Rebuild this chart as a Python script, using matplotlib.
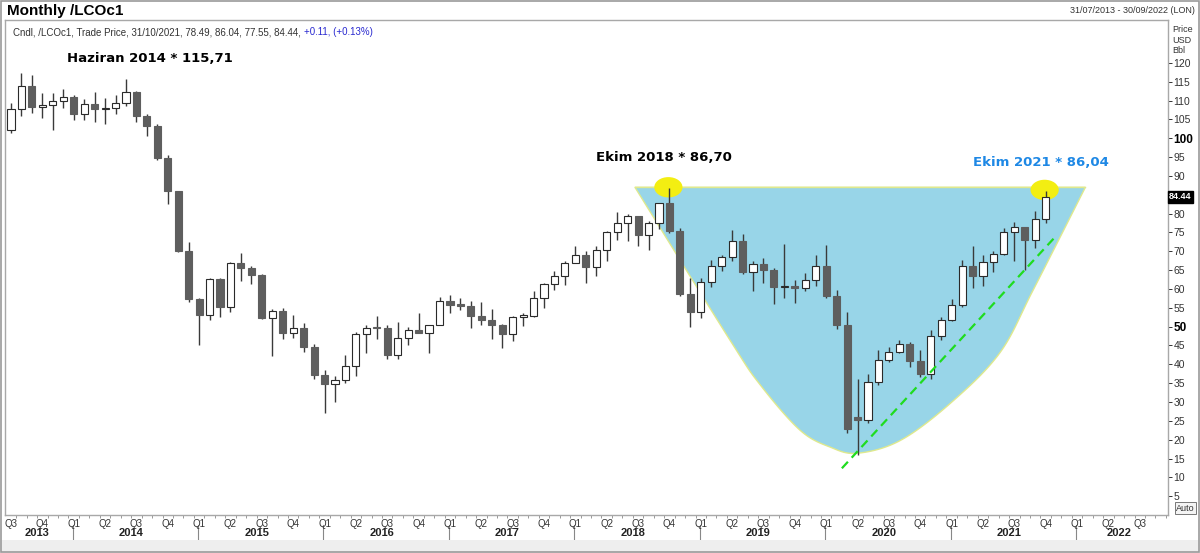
import numpy as np
import pandas as pd
import matplotlib
matplotlib.use('Agg')
import matplotlib.pyplot as plt
import matplotlib.transforms as mtransforms
from matplotlib.patches import Ellipse, Polygon, Rectangle

plt.rcParams['font.family'] = ['Liberation Sans', 'DejaVu Sans']

# monthly Brent (LCOc1) candles, Jul 2013 .. Oct 2021
months = pd.date_range('2013-07-01', '2021-10-01', freq='MS')
opens = [102.2, 107.7, 114.0, 108.4, 108.8, 110.0,
         111.0, 106.4, 109.1, 107.8, 108.1, 109.4, 112.4, 106.0, 103.2, 94.7, 85.9, 70.15,
         57.3, 52.99, 62.58, 55.11, 66.78, 65.56, 63.59, 52.21, 54.15, 48.37, 49.56, 44.61,
         37.28, 34.74, 35.97, 39.60, 48.13, 49.69, 49.68, 42.46, 47.04, 49.06, 48.30, 50.47,
         56.82, 55.70, 55.59, 52.83, 51.73, 50.31, 47.92, 52.65, 52.86, 57.54, 61.37, 63.57,
         66.87, 69.05, 65.78, 70.27, 75.17, 77.59, 79.44, 74.25, 77.42, 82.72, 75.47, 58.71,
         53.80, 61.89, 66.03, 68.39, 72.80, 64.49, 66.55, 65.17, 60.43, 60.78, 60.23, 62.43,
         66.00, 58.16, 50.52, 26.00, 25.30, 35.33, 41.15, 43.30, 45.28, 40.95, 37.46, 47.59,
         51.80, 55.88, 66.13, 63.54, 67.25, 69.32, 75.13, 76.33, 72.99, 78.49]
highs = [109.3, 117.3, 116.8, 112.0, 112.0, 113.1,
         111.5, 110.5, 112.4, 110.6, 111.5, 115.71, 112.5, 106.5, 103.8, 95.5, 86.0, 72.5,
         57.6, 63.0, 62.8, 67.1, 69.63, 66.2, 63.9, 54.7, 54.9, 53.1, 50.9, 45.4,
         38.5, 37.0, 42.5, 48.5, 50.5, 52.9, 50.5, 51.2, 49.9, 53.7, 50.5, 57.9,
         58.4, 57.5, 56.9, 56.6, 54.8, 50.8, 52.9, 53.5, 59.5, 61.7, 64.7, 67.3,
         71.3, 70.1, 71.3, 75.5, 80.5, 79.8, 79.5, 78.0, 82.9, 86.70, 76.3, 63.0,
         63.0, 67.6, 69.0, 75.6, 74.5, 67.4, 68.3, 65.6, 71.95, 62.3, 64.2, 68.99,
         71.75, 59.8, 53.9, 36.0, 37.5, 43.9, 44.6, 46.5, 46.0, 43.9, 49.2, 52.5,
         57.4, 67.7, 71.4, 68.9, 70.0, 76.2, 77.8, 76.5, 80.75, 86.04]
lows = [101.5, 106.0, 106.6, 105.5, 102.2, 108.0,
        104.9, 104.9, 104.3, 103.8, 106.5, 108.6, 104.3, 100.7, 94.2, 82.6, 69.8, 56.5,
        45.19, 51.8, 52.5, 54.0, 62.0, 61.3, 52.1, 42.23, 46.6, 47.1, 43.3, 36.0,
        27.10, 30.0, 35.0, 36.8, 43.0, 46.6, 41.5, 41.5, 45.0, 48.3, 43.0, 50.5,
        53.6, 54.5, 49.7, 50.5, 46.6, 44.35, 46.1, 50.3, 52.6, 55.0, 59.6, 61.0,
        66.8, 61.6, 63.5, 67.5, 73.0, 72.7, 71.5, 70.3, 76.0, 74.9, 58.2, 50.0,
        52.3, 60.5, 64.8, 67.5, 64.0, 59.5, 61.6, 55.9, 57.5, 56.2, 59.5, 60.8,
        57.7, 49.5, 21.65, 16.0, 24.5, 34.5, 40.5, 43.1, 39.4, 36.6, 36.0, 46.5,
        51.4, 55.1, 60.3, 60.9, 64.5, 68.9, 67.4, 65.1, 71.0, 77.55]
closes = [107.7, 114.0, 108.4, 108.8, 110.0, 111.0,
          106.4, 109.1, 107.8, 108.1, 109.4, 112.4, 106.0, 103.2, 94.7, 85.9, 70.15, 57.3,
          52.99, 62.58, 55.11, 66.78, 65.56, 63.59, 52.21, 54.15, 48.37, 49.56, 44.61, 37.28,
          34.74, 35.97, 39.60, 48.13, 49.69, 49.68, 42.46, 47.04, 49.06, 48.30, 50.47, 56.82,
          55.70, 55.59, 52.83, 51.73, 50.31, 47.92, 52.65, 52.86, 57.54, 61.37, 63.57, 66.87,
          69.05, 65.78, 70.27, 75.17, 77.59, 79.44, 74.25, 77.42, 82.72, 75.47, 58.71, 53.80,
          61.89, 66.03, 68.39, 72.80, 64.49, 66.55, 65.17, 60.43, 60.78, 60.23, 62.43, 66.00,
          58.16, 50.52, 22.74, 25.27, 35.33, 41.15, 43.30, 45.28, 40.95, 37.46, 47.59, 51.80,
          55.88, 66.13, 63.54, 67.25, 69.32, 75.13, 76.33, 72.99, 78.52, 84.44]

# axis runs to Sep 2022
axis_months = pd.date_range('2013-07-01', '2022-09-01', freq='MS')
price_ticks = list(range(5, 125, 5))
last_price = 84.44

# cup outline (month index, price)
cup_top = 87.0
cup_curve = [(59.7, 87.0), (68.8, 46.4), (71.7, 34.5), (75.5, 22.5), (78.4, 18.0),
             (81.0, 16.4), (85.1, 19.8), (89.9, 29.7), (94.6, 43.0), (97.8, 59.7),
             (102.8, 87.0)]
trend_line = [(79.5, 12.4), (99.9, 73.8)]


def catmull(points, n=20):
    pts = np.array(points, dtype=float)
    pts = np.vstack([pts[0], pts, pts[-1]])
    out = []
    for i in range(1, len(pts) - 2):
        p0, p1, p2, p3 = pts[i - 1], pts[i], pts[i + 1], pts[i + 2]
        for t in np.linspace(0, 1, n, endpoint=False):
            t2, t3 = t * t, t * t * t
            out.append(0.5 * ((2 * p1) + (-p0 + p2) * t + (2 * p0 - 5 * p1 + 4 * p2 - p3) * t2
                              + (-p0 + 3 * p1 - 3 * p2 + p3) * t3))
    out.append(pts[-2])
    return np.array(out)


fig = plt.figure(figsize=(12, 5.53), dpi=100)
ax = fig.add_axes([0.0042, 0.0687, 0.9691, 0.8951])

idx = np.arange(len(opens))
o = np.array(opens)
c = np.array(closes)
h = np.array(highs)
l = np.array(lows)

# cup fill
curve = catmull(cup_curve)
ax.add_patch(Polygon(curve, closed=True, facecolor='#98d5e8', edgecolor='#dfe98e',
                     linewidth=1.0, zorder=1))
ax.plot([cup_curve[0][0], cup_curve[-1][0]], [cup_top, cup_top], color='#dfe98e', lw=1.0, zorder=1)

# yellow markers at the two peaks
for xe, ye in [(62.9, 87.0), (98.9, 86.3)]:
    ax.add_patch(Ellipse((xe, ye), 2.7, 5.4, facecolor='#f3ee12', edgecolor='none', zorder=2))

# candles
up = c >= o
ax.vlines(idx, l, h, color='#3a3a3a', lw=1.0, zorder=3)
body_lo = np.minimum(o, c)
body_h = np.maximum(np.abs(c - o), 0.35)
ax.bar(idx[up], body_h[up], bottom=body_lo[up], width=0.68, color='white',
       edgecolor='#2a2a2a', linewidth=0.8, zorder=4)
ax.bar(idx[~up], body_h[~up], bottom=body_lo[~up], width=0.68, color='#5e5e5e',
       edgecolor='#5e5e5e', linewidth=0.8, zorder=4)

# trend line
ax.plot([p[0] for p in trend_line], [p[1] for p in trend_line], color='#1fdc1f',
        lw=1.6, ls=(0, (4, 2.5)), zorder=5)

# labels
ax.text(5.36, 121.1, 'Haziran 2014 * 115,71', fontsize=9.5, fontweight='bold',
        family='DejaVu Sans', ha='left', va='center', color='black')
ax.text(56.0, 94.8, 'Ekim 2018 * 86,70', fontsize=9.5, fontweight='bold',
        family='DejaVu Sans', ha='left', va='center', color='black')
ax.text(92.0, 93.7, 'Ekim 2021 * 86,04', fontsize=9.5, fontweight='bold',
        family='DejaVu Sans', ha='left', va='center', color='#1e88e5')

ax.set_xlim(-0.57, 110.7)
ax.set_ylim(0, 131.4)

# right price axis (85 hidden behind the last-price box)
ax.yaxis.tick_right()
ax.set_yticks(price_ticks)
ax.set_yticklabels(['' if v == 85 else str(v) for v in price_ticks])
ax.tick_params(axis='y', length=3, width=0.7, pad=1, labelsize=7.5, colors='#333333')
for lab in ax.get_yticklabels():
    if lab.get_text() in ('50', '100'):
        lab.set_fontweight('bold')
        lab.set_fontsize(8.5)
        lab.set_color('black')

# month ticks on the time axis
ax.set_xticks(np.arange(len(axis_months)) + 0.5, minor=True)
ax.set_xticks([])
ax.tick_params(axis='x', which='minor', length=2, width=0.6, colors='#888888')

for sp in ax.spines.values():
    sp.set_color('#a8a8a8')
    sp.set_linewidth(1.0)

trans = mtransforms.blended_transform_factory(ax.transData, ax.transAxes)
for i, m in enumerate(axis_months):
    if m.month in (1, 4, 7, 10):
        ax.text(i, -0.008, 'Q%d' % ((m.month - 1) // 3 + 1), transform=trans, ha='center',
                va='top', fontsize=7, color='#333333', clip_on=False)
    if m.month == 1:
        ax.plot([i - 0.1, i - 0.1], [-0.02, -0.052], transform=trans, color='#888888',
                lw=0.8, clip_on=False)
years = sorted(set(axis_months.year))
for y in years:
    pos = [i for i, m in enumerate(axis_months) if m.year == y]
    ax.text((pos[0] + pos[-1]) / 2.0, -0.037, str(y), transform=trans, ha='center',
            va='center', fontsize=8, fontweight='bold', color='#222222', clip_on=False)

# current price box
ax.text(1.001, last_price, '%.2f' % last_price,
        transform=mtransforms.blended_transform_factory(ax.transAxes, ax.transData),
        ha='left', va='center', fontsize=6.5, fontweight='bold', color='white',
        bbox=dict(boxstyle='square,pad=0.12', facecolor='black', edgecolor='black'), zorder=10,
        clip_on=False)

fig.text(0.977, 0.955, 'Price\nUSD\nBbl', ha='left', va='top', fontsize=6.5, color='#333333',
         linespacing=1.25)

# header
fig.text(0.006, 0.993, 'Monthly /LCOc1', ha='left', va='top', fontsize=11, fontweight='bold')
fig.text(0.996, 0.99, '31/07/2013 - 30/09/2022 (LON)', ha='right', va='top', fontsize=6.5,
         color='#333333')
t1 = ax.text(0.007, 0.985, 'Cndl, /LCOc1, Trade Price, 31/10/2021, 78.49, 86.04, 77.55, 84.44, ',
             transform=ax.transAxes, ha='left', va='top', fontsize=7, color='#333333')
ax.annotate('+0.11, (+0.13%)', xy=(1, 0), xycoords=t1, ha='left', va='bottom', fontsize=7,
            color='#2a2ad0')

# footer band + "Auto" box + frame
fig.patches.append(Rectangle((0, 0), 1, 0.0235, transform=fig.transFigure,
                             facecolor='#eeeeee', edgecolor='none', zorder=0))
fig.text(0.988, 0.081, 'Auto', ha='center', va='center', fontsize=6.5, color='#333333',
         bbox=dict(boxstyle='square,pad=0.15', facecolor='#f4f4f4', edgecolor='#777777', lw=0.7))
fig.patches.append(Rectangle((0.0005, 0.001), 0.999, 0.998, transform=fig.transFigure,
                             facecolor='none', edgecolor='#9a9a9a', lw=1.2, zorder=0))

fig.savefig('out.png', dpi=100)
